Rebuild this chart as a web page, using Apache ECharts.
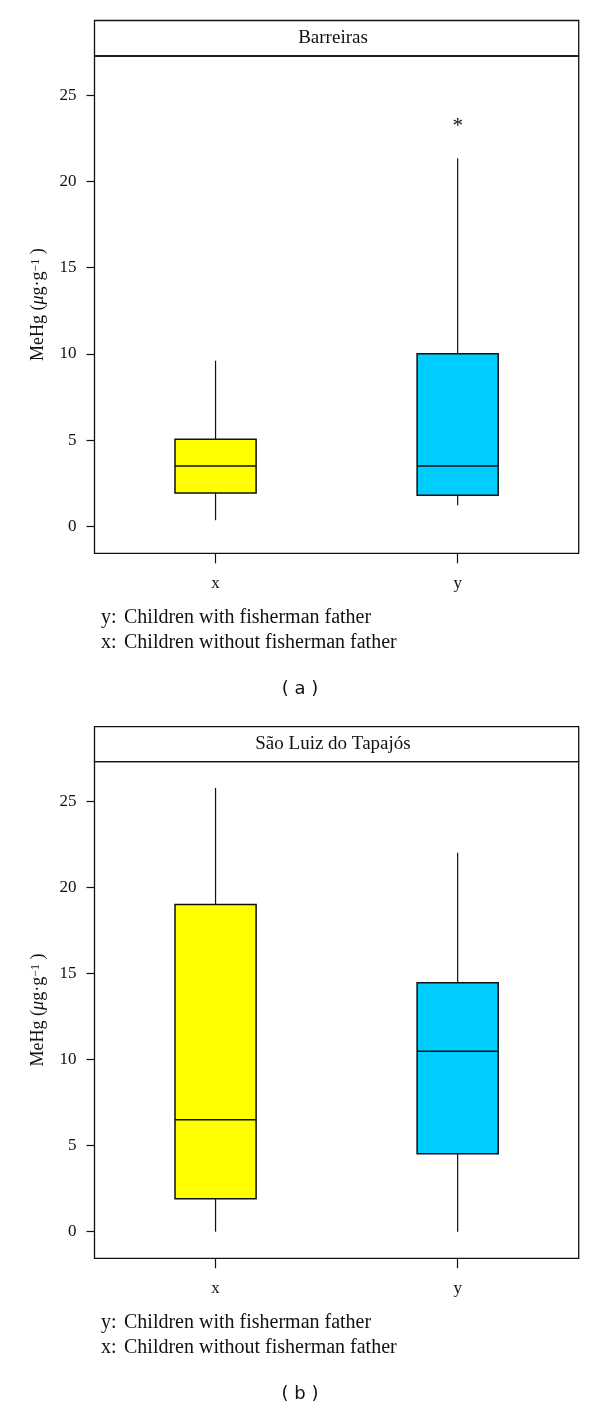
<!DOCTYPE html>
<html>
<head>
<meta charset="utf-8">
<script src="https://cdn.jsdelivr.net/npm/echarts@6/dist/echarts.min.js"></script>
<style>
  html, body { margin: 0; padding: 0; background: #fff; }
  #chart { width: 600px; height: 1412px; }
</style>
</head>
<body>
<div id="chart"></div>
<script>
// ---- data ----
const categories = ['x', 'y'];
const yTicks = [0, 5, 10, 15, 20, 25];
const panelTitles = ['Barreiras', 'São Luiz do Tapajós'];
const panelTags = ['( a )', '( b )'];
const legendKeys = ['y:', 'x:'];
const legendTexts = ['Children with fisherman father', 'Children without fisherman father'];
const boxColors = ['#FFFF00', '#00CCFF'];
// [lower whisker, Q1, median, Q3, upper whisker]
const barreirasStats = [
  [0.35, 1.93, 3.5, 5.05, 9.6],
  [1.22, 1.8, 3.5, 10.0, 21.35]
];
// [category index, value]
const barreirasOutliers = [[1, 23.4]];
const saoLuizStats = [
  [0, 1.92, 6.5, 19.0, 25.77],
  [0, 4.53, 10.48, 14.46, 22.0]
];
const saoLuizOutliers = [];

// ---- layout ----
const FONT = '"Liberation Serif", "Times New Roman", serif';
const INK = '#111';
const frameLeft = 94.5, frameWidth = 484.2;
const panels = [
  { stripTop: 20.5, gridTop: 56, gridHeight: 497.3, yMin: -1.57, yMax: 27.28 },
  { stripTop: 726.7, gridTop: 761.7, gridHeight: 496.6, yMin: -1.545, yMax: 27.29 }
];
const allStats = [barreirasStats, saoLuizStats];
const allOutliers = [barreirasOutliers, saoLuizOutliers];

const grids = [], xAxes = [], yAxes = [], series = [], graphics = [];

panels.forEach((p, i) => {
  grids.push({
    left: frameLeft, top: p.gridTop, width: frameWidth, height: p.gridHeight,
    show: true, borderColor: INK, borderWidth: 1.3, backgroundColor: 'transparent'
  });
  xAxes.push({
    type: 'category', gridIndex: i, data: categories, boundaryGap: true, position: 'bottom',
    axisLine: { show: false, onZero: false },
    axisTick: { show: true, alignWithLabel: true, length: 10, lineStyle: { color: INK, width: 1.2 } },
    axisLabel: { color: INK, fontFamily: FONT, fontSize: 17, margin: 22 },
    splitLine: { show: false }
  });
  yAxes.push({
    type: 'value', gridIndex: i, min: p.yMin, max: p.yMax, position: 'left',
    axisLine: { show: false, onZero: false },
    axisTick: { show: true, length: 8, customValues: yTicks, lineStyle: { color: INK, width: 1.2 } },
    axisLabel: { color: INK, fontFamily: FONT, fontSize: 17, margin: 18, customValues: yTicks },
    splitLine: { show: false },
    name: '{n|MeHg (}{i|μ}{n|g·g}{s|−1}{n| )}',
    nameLocation: 'middle', nameGap: 47,
    nameTextStyle: {
      color: INK, fontFamily: FONT, fontSize: 18,
      rich: {
        n: { fontFamily: FONT, fontSize: 18, color: INK },
        i: { fontFamily: FONT, fontSize: 18, fontStyle: 'italic', color: INK },
        s: { fontFamily: FONT, fontSize: 12, color: INK, verticalAlign: 'top' }
      }
    }
  });

  const stats = allStats[i];
  series.push({
    type: 'custom', xAxisIndex: i, yAxisIndex: i,
    data: stats.map((s, k) => [k].concat(s)),
    renderItem: function (params, api) {
      const k = api.value(0);
      const lo = api.coord([k, api.value(1)]);
      const q1 = api.coord([k, api.value(2)]);
      const md = api.coord([k, api.value(3)]);
      const q3 = api.coord([k, api.value(4)]);
      const hi = api.coord([k, api.value(5)]);
      const band = api.size([1, 0])[0];
      const w = band * 0.335;
      const cx = q1[0];
      return {
        type: 'group',
        children: [
          { type: 'line', shape: { x1: cx, y1: hi[1], x2: cx, y2: q3[1] }, style: { stroke: INK, lineWidth: 1.2 } },
          { type: 'line', shape: { x1: cx, y1: q1[1], x2: cx, y2: lo[1] }, style: { stroke: INK, lineWidth: 1.2 } },
          { type: 'rect', shape: { x: cx - w / 2, y: q3[1], width: w, height: q1[1] - q3[1] },
            style: { fill: boxColors[k], stroke: INK, lineWidth: 1.5 } },
          { type: 'line', shape: { x1: cx - w / 2, y1: md[1], x2: cx + w / 2, y2: md[1] }, style: { stroke: INK, lineWidth: 1.5 } }
        ]
      };
    }
  });
  if (allOutliers[i].length) {
    series.push({
      type: 'custom', xAxisIndex: i, yAxisIndex: i,
      data: allOutliers[i],
      renderItem: function (params, api) {
        const pt = api.coord([api.value(0), api.value(1)]);
        return {
          type: 'text', x: pt[0], y: pt[1] + 4,
          style: { text: '*', fill: INK, font: '21px ' + FONT, align: 'center', verticalAlign: 'middle' }
        };
      }
    });
  }

  // strip header
  graphics.push({
    type: 'rect', silent: true,
    shape: { x: frameLeft, y: p.stripTop, width: frameWidth, height: p.gridTop - p.stripTop },
    style: { fill: 'transparent', stroke: INK, lineWidth: 1.3 }
  });
  graphics.push({
    type: 'text', x: 333, y: (p.stripTop + p.gridTop) / 2 - 0.6,
    style: { text: panelTitles[i], fill: INK, font: '19px ' + FONT, align: 'center', verticalAlign: 'middle' }
  });
  // legend lines
  const bottom = p.gridTop + p.gridHeight;
  [0, 1].forEach(j => {
    const y = bottom + 64 + j * 25;
    graphics.push({ type: 'text', x: 101, y: y,
      style: { text: legendKeys[j], fill: INK, font: '20px ' + FONT, align: 'left', verticalAlign: 'middle' } });
    graphics.push({ type: 'text', x: 124, y: y,
      style: { text: legendTexts[j], fill: INK, font: '20px ' + FONT, align: 'left', verticalAlign: 'middle' } });
  });
  graphics.push({ type: 'text', x: 300, y: bottom + 136,
    style: { text: panelTags[i], fill: INK, font: '18px "DejaVu Sans", sans-serif', align: 'center', verticalAlign: 'middle' } });
});

const chart = echarts.init(document.getElementById('chart'), null, { renderer: 'canvas' });
chart.setOption({
  animation: false,
  backgroundColor: '#fff',
  grid: grids, xAxis: xAxes, yAxis: yAxes, series: series, graphic: graphics
});
</script>
</body>
</html>
